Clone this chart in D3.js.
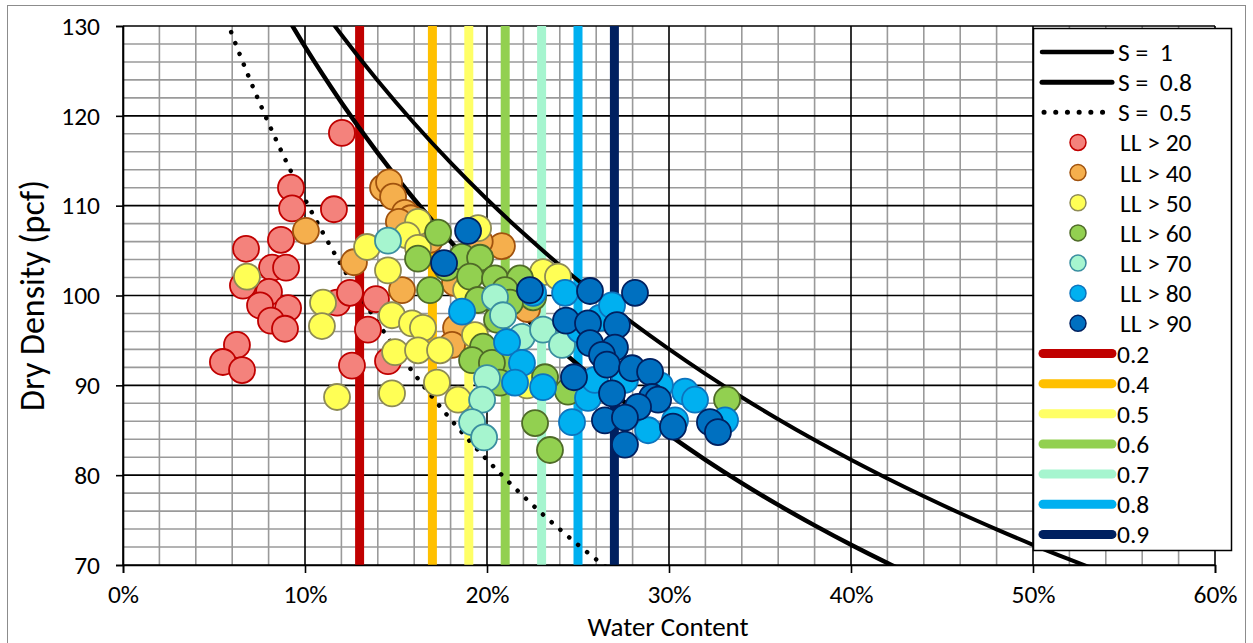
<!DOCTYPE html>
<html>
<head>
<meta charset="utf-8">
<script src="https://cdn.jsdelivr.net/npm/d3@7"></script>
<style>
  html, body { margin: 0; padding: 0; background: #fff; }
  svg { display: block; }
  text { font-family: Carlito, Calibri, "Liberation Sans Narrow", "Noto Sans", sans-serif; fill: #000; white-space: pre; }
</style>
</head>
<body>
<svg id="chart" width="1253" height="643"></svg>
<script>
// Saturation curves: [water content %, dry density pcf]
const curveS100 = [[11.5,130.37],[12,129.02],[14,123.90],[16,119.17],[18,114.78],[20,110.71],[22,106.92],[24,103.37],[26,100.06],[28,96.95],[30,94.03],[32,91.28],[34,88.68],[36,86.23],[38,83.91],[40,81.71],[42,79.63],[44,77.65],[46,75.76],[48,73.97],[50,72.25],[52,70.62],[54,69.05]];
const curveS080 = [[9,131.06],[10,127.70],[12,121.49],[14,115.85],[16,110.71],[18,106.01],[20,101.69],[22,97.71],[24,94.03],[26,90.61],[28,87.44],[30,84.48],[32,81.71],[34,79.12],[36,76.69],[38,74.41],[40,72.25],[42,70.22],[44,68.30]];
const curveS050 = [[5.5,131.75],[6,129.02],[7,123.90],[8,119.17],[9,114.78],[10,110.71],[11,106.92],[12,103.37],[13,100.06],[14,96.95],[15,94.03],[16,91.28],[17,88.68],[18,86.23],[19,83.91],[20,81.71],[21,79.63],[22,77.65],[23,75.76],[24,73.97],[25,72.25],[26,70.62],[27,69.05]];

// Vertical reference lines (water content %) and their labels
const refWater = [13, 17, 19, 21, 23, 25, 27];
const refLabels = ["0.2", "0.4", "0.5", "0.6", "0.7", "0.8", "0.9"];
const refColors = ["#C00000", "#FFC000", "#FFFF66", "#92D050", "#A6F5CF", "#00B0F0", "#002060"];

// Test results grouped by liquid limit: [water content %, dry density pcf]
const ll20 = [[12.03,118.1],[9.23,112.0],[9.29,109.7],[11.59,109.6],[6.76,105.2],[8.68,106.2],[8.19,103.1],[8.96,103.1],[6.59,101.1],[8.02,100.4],[7.53,98.9],[9.07,98.6],[8.13,97.2],[8.90,96.3],[6.26,94.5],[5.49,92.6],[6.54,91.7],[11.76,99.2],[12.47,100.3],[13.90,99.6],[13.46,96.2],[12.58,92.2],[14.56,92.7]];
const ll40 = [[10.05,107.2],[14.29,112.0],[14.62,112.6],[14.84,111.0],[15.49,109.2],[15.82,108.6],[15.16,108.2],[16.26,107.5],[12.69,103.7],[15.33,100.6],[16.87,106.2],[18.30,96.4],[18.08,94.5],[20.82,105.5],[18.24,101.4],[19.07,102.8],[19.60,106.0],[20.60,100.2],[22.20,98.5]];
const ll50 = [[6.81,102.1],[10.99,99.2],[10.93,96.6],[11.76,88.7],[13.41,105.4],[14.56,102.8],[14.78,97.8],[14.95,93.7],[14.78,89.1],[16.21,108.2],[15.60,106.7],[16.21,105.3],[15.88,96.9],[16.48,96.4],[16.21,93.9],[17.42,93.9],[17.25,90.3],[18.41,88.4],[19.51,107.5],[23.08,102.6],[23.90,102.1],[18.85,100.6],[19.34,95.6],[22.20,90.0]];
const ll60 = [[16.21,104.1],[17.31,107.0],[16.87,100.6],[17.80,103.1],[18.63,104.3],[19.62,104.2],[19.07,102.1],[20.44,101.9],[21.81,101.9],[20.99,100.6],[19.51,99.5],[22.53,99.8],[20.55,97.3],[19.78,94.3],[19.18,92.8],[20.27,92.5],[20.71,90.3],[23.19,90.9],[22.64,85.8],[23.46,82.8],[33.19,88.4],[24.45,89.3],[21.26,99.2]];
const ll70 = [[14.56,106.1],[20.44,99.8],[20.88,97.8],[21.92,95.4],[23.08,96.2],[24.12,94.5],[20.00,90.8],[19.73,88.4],[19.18,85.9],[19.84,84.2]];
const ll80 = [[18.63,98.2],[22.53,100.3],[24.29,100.3],[26.21,97.5],[21.10,94.8],[21.92,92.5],[21.54,90.3],[23.08,89.8],[24.67,85.9],[25.55,88.6],[25.93,90.6],[27.58,90.6],[28.85,85.0],[30.33,86.1],[30.88,89.3],[31.43,88.4],[33.08,86.1],[29.50,90.0],[26.87,98.9],[25.10,96.2]];
const ll90 = [[18.96,107.2],[17.64,103.6],[22.36,100.6],[25.66,100.5],[28.13,100.3],[24.34,97.2],[25.55,96.9],[27.14,96.7],[25.66,94.7],[27.03,94.2],[26.32,93.4],[24.78,90.9],[26.59,92.3],[27.97,91.9],[28.96,91.5],[26.87,89.1],[29.07,88.7],[29.40,88.4],[28.30,87.6],[26.48,86.1],[27.58,86.4],[27.58,83.4],[30.22,85.4],[32.25,85.9],[32.69,84.8]];

const groups = [
  { name: "LL > 20", data: ll20, fill: "#F4827C", stroke: "#C00000" },
  { name: "LL > 40", data: ll40, fill: "#F5AF4D", stroke: "#A0520E" },
  { name: "LL > 50", data: ll50, fill: "#FFFF55", stroke: "#8E8B55" },
  { name: "LL > 60", data: ll60, fill: "#92D050", stroke: "#4F6B28" },
  { name: "LL > 70", data: ll70, fill: "#A6F5CF", stroke: "#3A8EA0" },
  { name: "LL > 80", data: ll80, fill: "#00B0F0", stroke: "#0C74BE" },
  { name: "LL > 90", data: ll90, fill: "#0070C0", stroke: "#002060" }
];
const curves = [
  { name: "S =  1", data: curveS100, width: 4, dash: null },
  { name: "S =  0.8", data: curveS080, width: 4.5, dash: null },
  { name: "S =  0.5", data: curveS050, width: 4.5, dash: "0.1 11.5" }
];

const xTicks = [0, 10, 20, 30, 40, 50, 60];
const yTicks = [70, 80, 90, 100, 110, 120, 130];

const FONT = 'Carlito, Calibri, "Liberation Sans Narrow", "Noto Sans", sans-serif';
const svg = d3.select("#chart");
const x = d3.scaleLinear().domain([0, 60]).range([123, 1215]);
const y = d3.scaleLinear().domain([70, 130]).range([565, 26]);

// outer chart frame
svg.append("rect").attr("x", 7.5).attr("y", 5.5).attr("width", 1238).attr("height", 660)
  .attr("fill", "#fff").attr("stroke", "#8c8c8c").attr("stroke-width", 1);

const clipId = "plotclip";
svg.append("clipPath").attr("id", clipId).append("rect")
  .attr("x", x(0)).attr("y", y(130)).attr("width", x(60) - x(0)).attr("height", y(70) - y(130));

// gridlines: minor every 2, major every 10
const grid = svg.append("g");
grid.selectAll("line.vminor").data(d3.range(0, 61, 2).filter(v => v % 10 !== 0)).join("line")
  .attr("x1", d => x(d)).attr("x2", d => x(d)).attr("y1", y(70)).attr("y2", y(130))
  .attr("stroke", "#9a9a9a").attr("stroke-width", 1.6);
grid.selectAll("line.hminor").data(d3.range(70, 131, 2).filter(v => v % 10 !== 0)).join("line")
  .attr("x1", x(0)).attr("x2", x(60)).attr("y1", d => y(d)).attr("y2", d => y(d))
  .attr("stroke", "#9a9a9a").attr("stroke-width", 1.6);
grid.selectAll("line.vmajor").data(xTicks).join("line")
  .attr("x1", d => x(d)).attr("x2", d => x(d)).attr("y1", y(70)).attr("y2", y(130))
  .attr("stroke", "#000").attr("stroke-width", 1.6);
grid.selectAll("line.hmajor").data(yTicks).join("line")
  .attr("x1", x(0)).attr("x2", x(60)).attr("y1", d => y(d)).attr("y2", d => y(d))
  .attr("stroke", "#000").attr("stroke-width", 1.6);

// vertical reference lines
svg.append("g").selectAll("line").data(refWater).join("line")
  .attr("x1", d => x(d)).attr("x2", d => x(d)).attr("y1", y(70)).attr("y2", y(130))
  .attr("stroke", (d, i) => refColors[i]).attr("stroke-width", 9);

// saturation curves
const line = d3.line().x(d => x(d[0])).y(d => y(d[1])).curve(d3.curveMonotoneX);
const curveG = svg.append("g").attr("clip-path", `url(#${clipId})`);
curves.forEach(c => {
  curveG.append("path").datum(c.data).attr("d", line)
    .attr("fill", "none").attr("stroke", "#000").attr("stroke-width", c.width)
    .attr("stroke-linecap", c.dash ? "round" : "butt")
    .attr("stroke-dasharray", c.dash);
});

// axes
const xAxis = svg.append("g").attr("transform", `translate(0,${y(70)})`)
  .call(d3.axisBottom(x).tickValues(xTicks).tickFormat(d => d + "%").tickSize(8).tickPadding(11.5));
const yAxis = svg.append("g").attr("transform", `translate(${x(0)},0)`)
  .call(d3.axisLeft(y).tickValues(yTicks).tickSize(7).tickPadding(16));
[xAxis, yAxis].forEach(a => {
  a.attr("font-size", 25.5).attr("font-family", FONT);
  a.select(".domain").attr("stroke", "#000").attr("stroke-width", 1.6);
  a.selectAll(".tick line").attr("stroke", "#000").attr("stroke-width", 1.6);
  a.selectAll(".tick text").attr("font-size", 25.5).attr("fill", "#000").style("font-family", FONT);
});

// axis titles
svg.append("text").attr("x", 668).attr("y", 635.5).attr("text-anchor", "middle")
  .attr("font-size", 27).text("Water Content");
svg.append("text").attr("transform", `translate(44,${(y(70) + y(130)) / 2}) rotate(-90)`)
  .attr("text-anchor", "middle").attr("font-size", 34).text("Dry Density (pcf)");

// scatter points by liquid-limit group
const pts = svg.append("g");
groups.forEach(g => {
  pts.append("g").selectAll("circle").data(g.data).join("circle")
    .attr("cx", d => x(d[0])).attr("cy", d => y(d[1])).attr("r", 13)
    .attr("fill", g.fill).attr("stroke", g.stroke).attr("stroke-width", 1.8);
});

// legend
const lg = svg.append("g");
lg.append("rect").attr("x", 1033.5).attr("y", 28.5).attr("width", 198).attr("height", 522)
  .attr("fill", "#fff").attr("stroke", "#000").attr("stroke-width", 1.5);
const step = 30.15, y0 = 52;
const entries = [];
curves.forEach(c => entries.push({ type: "curve", c }));
groups.forEach(g => entries.push({ type: "pt", g }));
refWater.forEach((w, i) => entries.push({ type: "ref", label: refLabels[i], color: refColors[i] }));
entries.forEach((e, i) => {
  const cy = y0 + i * step;
  if (e.type === "curve") {
    lg.append("line").attr("x1", e.c.dash ? 1044 : 1042).attr("x2", 1112).attr("y1", cy).attr("y2", cy)
      .attr("stroke", "#000").attr("stroke-width", e.c.width + 0.5)
      .attr("stroke-linecap", "round").attr("stroke-dasharray", e.c.dash ? "0.1 11.6" : null);
    lg.append("text").attr("x", 1118).attr("y", cy + 9).attr("font-size", 25.5).text(e.c.name);
  } else if (e.type === "pt") {
    lg.append("circle").attr("cx", 1078).attr("cy", cy).attr("r", 8)
      .attr("fill", e.g.fill).attr("stroke", e.g.stroke).attr("stroke-width", 1.5);
    lg.append("text").attr("x", 1120).attr("y", cy + 9).attr("font-size", 25.5).text(e.g.name);
  } else {
    lg.append("line").attr("x1", 1043).attr("x2", 1112).attr("y1", cy).attr("y2", cy)
      .attr("stroke", e.color).attr("stroke-width", 9).attr("stroke-linecap", "round");
    lg.append("text").attr("x", 1117).attr("y", cy + 9).attr("font-size", 25.5).text(e.label);
  }
});
</script>
</body>
</html>
